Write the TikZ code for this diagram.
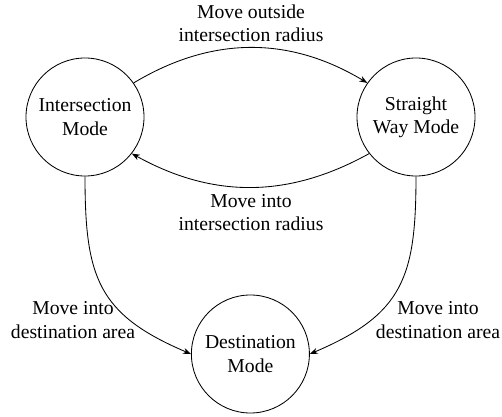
\documentclass[tikz,border=0pt]{standalone}
\usepackage{fontspec}
\setmainfont{Liberation Serif}
\usetikzlibrary{arrows.meta, positioning}

\begin{document}
\begin{tikzpicture}[>=Stealth, line width=0.6pt,
    every node/.style={font=\rmfamily\fontsize{14}{16.5}\selectfont, align=center},
    mode/.style={draw, circle, minimum size=2.95cm, inner sep=0pt}]
    \useasboundingbox (0,0) rectangle (12.55,-10.425);

    % The three modes
    \node[mode] (Inter) at (2.125,-2.925) {Intersection\\Mode};
    \node[mode] (Straight) at (10.4,-2.925) {Straight\\Way Mode};
    \node[mode] (Dest) at (6.26,-8.85) {Destination\\Mode};

    % Transitions between the modes
    \draw[->] (Inter.35) to[bend left=31] (Straight.145);
    \draw[->] (Straight.218) to[bend left=29] (Inter.322);
    \draw[->] (Inter.south) to[out=-90, in=157, looseness=1.25] (Dest.180);
    \draw[->] (Straight.south) to[out=-90, in=23, looseness=1.25] (Dest.0);

    % Transition labels
    \node (LblOut) at (6.275,-0.575) {Move outside\\intersection radius};
    \node (LblIn) at (6.275,-5.32) {Move into\\intersection radius};
    \node (LblDestL) at (1.825,-8.0) {Move into\\destination area};
    \node (LblDestR) at (10.95,-8.0) {Move into\\destination area};

\end{tikzpicture}
\end{document}
